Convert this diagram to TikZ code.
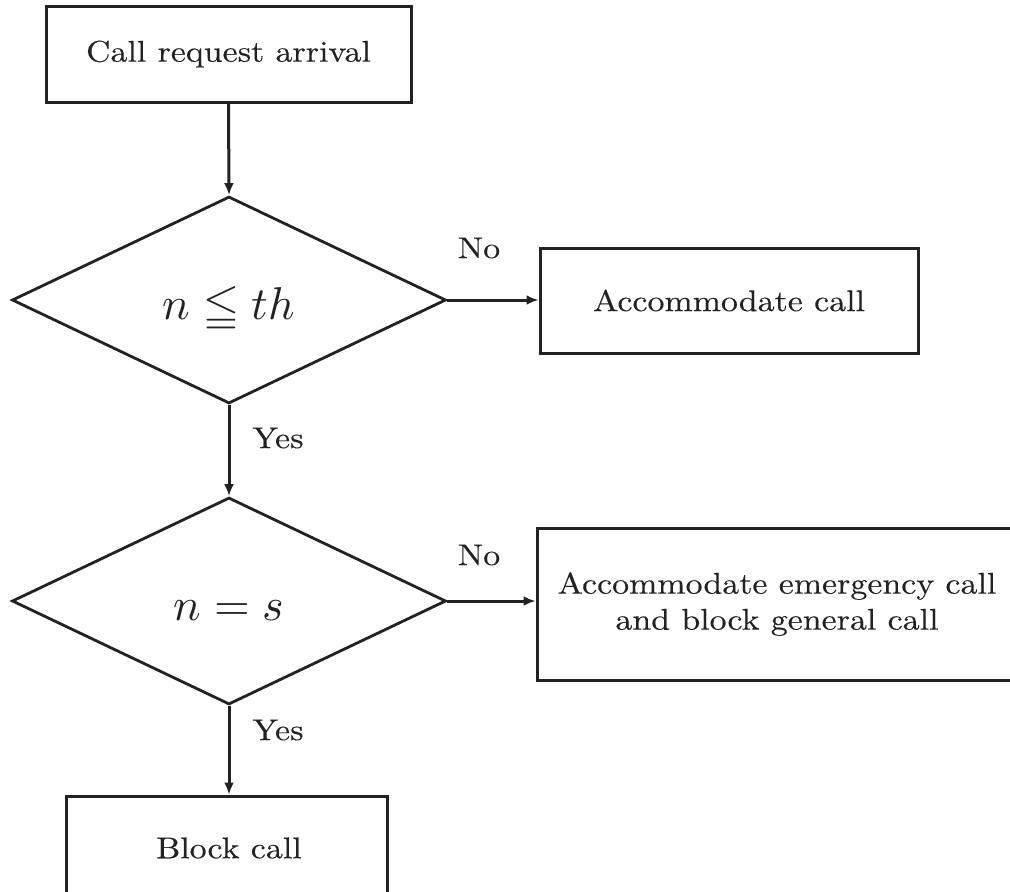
\documentclass[tikz,border=0pt]{standalone}
\usepackage{fontspec}
\usepackage{unicode-math}
\setmathfont{Latin Modern Math}
\usetikzlibrary{shapes.geometric,arrows.meta}
\definecolor{ink}{HTML}{222222}
\newfontfamily\flowfam{lmroman10-regular.otf}[FakeStretch=1.13,FakeBold=0.25]
\newcommand{\flowfont}{\flowfam\fontsize{30}{40}\selectfont}
\begin{document}
\begin{tikzpicture}[x=1pt,y=-1pt,
  every node/.style={text=ink,font=\flowfont},
  box/.style={draw=ink,line width=3pt,rectangle,inner sep=0pt,align=center},
  decision/.style={draw=ink,line width=2.8pt,diamond,inner sep=0pt,aspect=2.1,
    minimum width=434pt,minimum height=207pt,font=\fontsize{46}{50}\selectfont},
  flow/.style={draw=ink,line width=3pt,-{Latex[length=12pt,width=10pt]}},
  lbl/.style={font=\flowfont}]
\useasboundingbox (0,0) rectangle (1010,892);

% process boxes and decisions
\node[box,minimum width=365pt,minimum height=96pt] (start) at (228.5,54) {Call request arrival};
\node[decision] (d1) at (229,300) {\raisebox{-19pt}[0pt][0pt]{$n \leqq th$}};
\node[box,minimum width=378pt,minimum height=105pt] (acc) at (729,300.5) {Accommodate call};
\node[decision] (d2) at (229,601) {\raisebox{-19pt}[0pt][0pt]{$n = s$}};
\node[box,minimum width=480pt,minimum height=152pt] (emg) at (777,604)
  {\raisebox{-4pt}{Accommodate emergency call}\\ and block general call};
\node[box,minimum width=321pt,minimum height=160pt] (blk) at (226.5,876) {};
\node (blktxt) at (229,848) {Block call};

% connectors
\draw[flow] (start.south) -- (d1.north);
\draw[flow] (d1.east) -- (d1.east -| acc.west);
\draw[flow] (d1.south) -- (d2.north);
\draw[flow] (d2.east) -- (d2.east -| emg.west);
\draw[flow] (d2.south) -- (d2.south |- blk.north);

% branch labels
\node[lbl] (no1) at (479,248) {No};
\node[lbl] (yes1) at (278,438) {Yes};
\node[lbl] (no2) at (479,555) {No};
\node[lbl] (yes2) at (278,730) {Yes};
\end{tikzpicture}
\end{document}
